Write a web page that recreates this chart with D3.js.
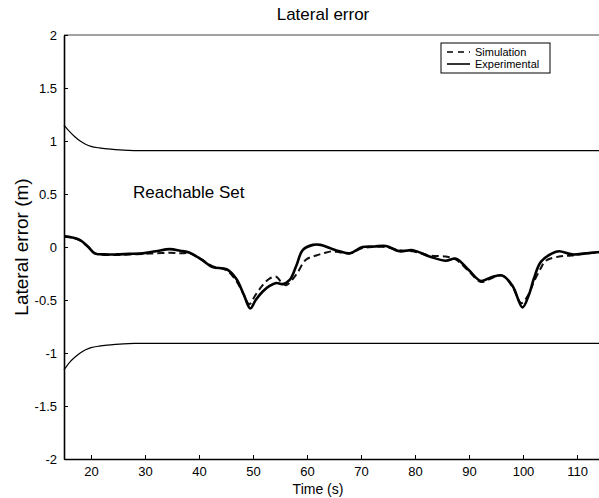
<!DOCTYPE html>
<html>
<head>
<meta charset="utf-8">
<script src="https://cdn.jsdelivr.net/npm/d3@7"></script>
<style>
  body { margin: 0; background: #fff; }
  svg { font-family: "Liberation Sans", Arial, Helvetica, sans-serif; }
</style>
</head>
<body>
<svg id="chart" width="599" height="498"></svg>
<script>
// reachable set bounds
var boundTime  = [15, 16, 17, 18, 19, 20, 21.5, 23, 24.5, 26, 28, 30, 115];
var upperBound = [1.15, 1.09, 1.04, 1.0, 0.97, 0.95, 0.935, 0.925, 0.918, 0.913, 0.91, 0.91, 0.91];
var lowerBound = [-1.16, -1.09, -1.04, -1.0, -0.97, -0.95, -0.935, -0.925, -0.918, -0.913, -0.91, -0.91, -0.91];

// experimental run
var expTime = [15, 16.5, 18, 19.5, 20.7, 22.5, 24.7, 27, 29.6, 32, 34.6, 36.5, 38.3, 40.5, 42.5,
  45.1, 46.9, 48.3, 49.5, 50.5, 51.8, 53, 54.3, 55.5, 56.8, 58, 59.2, 61.1, 62.5, 64.2, 66, 67.9,
  70.3, 72.5, 74.6, 77.1, 79.6, 82.7, 85.7, 87.6, 90, 92.2, 94.4, 96.2, 98.1, 99.9, 101.1, 102,
  103.3, 105.4, 106.7, 109.1, 111.6, 113.8, 115];
var expValues = [0.10, 0.09, 0.065, 0.0, -0.06, -0.07, -0.07, -0.065, -0.06, -0.04, -0.02, -0.035, -0.055, -0.12, -0.19,
  -0.21, -0.30, -0.45, -0.58, -0.50, -0.42, -0.37, -0.34, -0.35, -0.31, -0.18, -0.03, 0.02, 0.02, -0.01, -0.04, -0.06,
  0.0, 0.005, 0.01, -0.04, -0.03, -0.09, -0.13, -0.11, -0.22, -0.32, -0.28, -0.27, -0.37, -0.57, -0.45, -0.30,
  -0.14, -0.06, -0.04, -0.07, -0.06, -0.05, -0.04];

// simulation run
var simTime = [15, 16.5, 18, 19.5, 20.7, 22.5, 24.7, 27, 29.6, 32, 34.6, 36.5, 38.3, 40.5, 42.5,
  45.1, 46.9, 48.3, 49.3, 50.5, 51.8, 53, 54.3, 55.2, 56.1, 58, 59.8, 61.7, 63, 64.7, 66, 67.9,
  70.3, 72.5, 74.6, 77.1, 79.6, 82.7, 85.7, 87.6, 90, 92.2, 94.4, 96.2, 98.1, 99.7, 101.1, 102,
  103.3, 104.2, 106.7, 109, 111.6, 113.8, 115];
var simValues = [0.10, 0.09, 0.06, 0.0, -0.06, -0.075, -0.075, -0.07, -0.065, -0.06, -0.055, -0.06, -0.06, -0.12, -0.18,
  -0.22, -0.32, -0.45, -0.54, -0.45, -0.36, -0.30, -0.28, -0.33, -0.36, -0.26, -0.12, -0.08, -0.06, -0.04, -0.05, -0.06,
  -0.01, 0.0, 0.0, -0.03, -0.04, -0.08, -0.09, -0.12, -0.23, -0.33, -0.29, -0.27, -0.38, -0.53, -0.44, -0.33,
  -0.20, -0.13, -0.09, -0.08, -0.06, -0.05, -0.04];

var xTicks = [20, 30, 40, 50, 60, 70, 80, 90, 100, 110];
var yTicks = [-2, -1.5, -1, -0.5, 0, 0.5, 1, 1.5, 2];

var svg = d3.select('#chart');

// plot box edges in pixels
var plotLeft = 64, plotTop = 35, plotBottom = 459, plotRight = 604;

var x = d3.scaleLinear().domain([15, 115]).range([plotLeft, plotRight]);
var y = d3.scaleLinear().domain([-2, 2]).range([plotBottom, plotTop]);

// box (top edge; right edge is off the picture)
svg.append('line')
  .attr('x1', plotLeft).attr('x2', plotRight)
  .attr('y1', plotTop).attr('y2', plotTop)
  .attr('stroke', '#444').attr('stroke-width', 1);

// axes with inward ticks, matlab style
var xAxis = svg.append('g')
  .attr('transform', 'translate(0,' + plotBottom + ')')
  .call(d3.axisBottom(x).tickValues(xTicks).tickFormat(d3.format('d'))
    .tickSizeInner(-4).tickSizeOuter(0).tickPadding(8));

var yAxis = svg.append('g')
  .attr('transform', 'translate(' + plotLeft + ',0)')
  .call(d3.axisLeft(y).tickValues(yTicks).tickFormat(function(d) { return String(d); })
    .tickSizeInner(-4).tickSizeOuter(0).tickPadding(7));

[xAxis, yAxis].forEach(function(ax) {
  ax.select('.domain').attr('stroke', '#000').attr('stroke-width', 1.6);
  ax.selectAll('.tick line').attr('stroke', '#000');
  ax.selectAll('.tick text').attr('font-size', 13).attr('fill', '#000')
    .attr('font-family', '"Liberation Sans", Arial, sans-serif');
});

var line = d3.line()
  .x(function(d) { return x(d[0]); })
  .y(function(d) { return y(d[1]); })
  .curve(d3.curveCatmullRom.alpha(0.5));

function zipPts(ts, vs) {
  return ts.map(function(t, i) { return [t, vs[i]]; });
}

// reachable set
svg.append('path').datum(zipPts(boundTime, upperBound))
  .attr('d', line).attr('fill', 'none').attr('stroke', '#000').attr('stroke-width', 1.2);
svg.append('path').datum(zipPts(boundTime, lowerBound))
  .attr('d', line).attr('fill', 'none').attr('stroke', '#000').attr('stroke-width', 1.2);

// simulation (dashed) and experiment (solid)
svg.append('path').datum(zipPts(simTime, simValues))
  .attr('d', line).attr('fill', 'none').attr('stroke', '#111')
  .attr('stroke-width', 2).attr('stroke-dasharray', '7,4');
svg.append('path').datum(zipPts(expTime, expValues))
  .attr('d', line).attr('fill', 'none').attr('stroke', '#000')
  .attr('stroke-width', 2.6).attr('stroke-linejoin', 'round');

// texts
svg.append('text').attr('x', 323).attr('y', 20)
  .attr('text-anchor', 'middle').attr('font-size', 17).text('Lateral error');

svg.append('text').attr('x', 133).attr('y', 198)
  .attr('font-size', 17).text('Reachable Set');

svg.append('text').attr('x', 318).attr('y', 494)
  .attr('text-anchor', 'middle').attr('font-size', 14).text('Time (s)');

svg.append('text')
  .attr('transform', 'translate(28,247) rotate(-90)')
  .attr('text-anchor', 'middle').attr('font-size', 19).text('Lateral error (m)');

// legend
var lg = svg.append('g').attr('transform', 'translate(441,43)');
lg.append('rect').attr('width', 109).attr('height', 30)
  .attr('fill', '#fff').attr('stroke', '#000').attr('stroke-width', 1);
lg.append('line').attr('x1', 6).attr('x2', 29).attr('y1', 9).attr('y2', 9)
  .attr('stroke', '#000').attr('stroke-width', 1.6).attr('stroke-dasharray', '6,5');
lg.append('line').attr('x1', 6).attr('x2', 29).attr('y1', 21).attr('y2', 21)
  .attr('stroke', '#000').attr('stroke-width', 1.6);
lg.append('text').attr('x', 34).attr('y', 13).attr('font-size', 11).text('Simulation');
lg.append('text').attr('x', 34).attr('y', 25).attr('font-size', 11).text('Experimental');
</script>
</body>
</html>
